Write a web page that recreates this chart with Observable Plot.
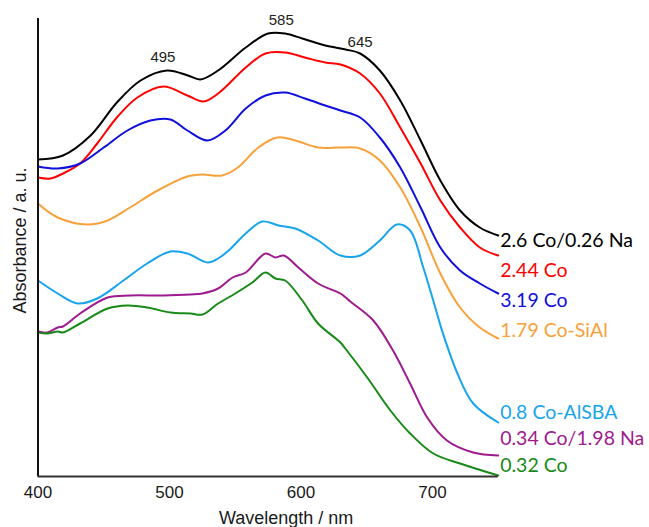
<!DOCTYPE html>
<html><head><meta charset="utf-8">
<script src="https://cdn.jsdelivr.net/npm/d3@7"></script>
<script src="https://cdn.jsdelivr.net/npm/@observablehq/plot@0.6"></script>
<style>body{margin:0;background:#fff}</style>
</head><body><div id="chart"></div>
<script>
// Series names (legend order) and colours
const names = ["2.6 Co/0.26 Na", "2.44 Co", "3.19 Co", "1.79 Co-SiAl", "0.8 Co-AlSBA", "0.34 Co/1.98 Na", "0.32 Co"];
const colors = ["#000000", "#ff0000", "#1010dc", "#f7a13a", "#18a4ec", "#9e1a8e", "#178a17"];

// Absorbance (a.u.) vs wavelength (nm)
const wlBlack  = [400, 419, 440, 460, 478, 498, 514, 523.5, 537, 558, 575, 588, 601, 618.5, 634, 645, 660, 675.5, 691, 706, 721, 736, 750];
const absBlack = [3.17, 3.21, 3.41, 3.74, 3.96, 4.06, 4.01, 3.97, 4.06, 4.29, 4.43, 4.43, 4.38, 4.31, 4.27, 4.23, 4.06, 3.76, 3.36, 2.96, 2.66, 2.49, 2.41];

const wlRed  = [400, 409.5, 419, 432, 445, 460, 475.6, 495.4, 513.6, 525.8, 537, 558, 573, 588, 603, 618.5, 630, 645, 660, 675.5, 691, 706, 721, 736, 750];
const absRed = [2.99, 2.98, 3.03, 3.13, 3.33, 3.59, 3.79, 3.90, 3.81, 3.75, 3.83, 4.09, 4.23, 4.24, 4.19, 4.14, 4.12, 4.03, 3.83, 3.49, 3.13, 2.76, 2.49, 2.29, 2.21];

const wlBlue  = [400, 415, 432, 450, 468, 485.5, 500.7, 513.6, 529, 542.5, 558, 573, 588, 603, 618.5, 630, 645, 660, 675.5, 691, 706, 721, 736, 750];
const absBlue = [3.10, 3.08, 3.13, 3.29, 3.46, 3.56, 3.57, 3.46, 3.36, 3.46, 3.68, 3.81, 3.84, 3.78, 3.71, 3.66, 3.59, 3.39, 3.09, 2.69, 2.29, 2.06, 1.93, 1.83];

const wlOrange  = [400, 415, 437.6, 453, 470, 491, 513.6, 525, 540, 552, 567.6, 582, 595.7, 613, 630, 645, 660, 675.5, 691, 706, 721, 736, 750];
const absOrange = [2.73, 2.59, 2.52, 2.56, 2.69, 2.86, 3.00, 3.02, 3.01, 3.09, 3.29, 3.39, 3.36, 3.29, 3.29, 3.28, 3.16, 2.89, 2.49, 2.03, 1.69, 1.49, 1.38];

const wlLightBlue  = [400, 415, 430, 445, 465, 483, 500.7, 513.6, 529, 537, 545, 558, 570.6, 583, 595.7, 613, 630, 645, 660, 673, 683, 693, 700.6, 708, 719, 731, 750];
const absLightBlue = [1.96, 1.83, 1.73, 1.78, 1.96, 2.13, 2.25, 2.23, 2.14, 2.18, 2.26, 2.43, 2.55, 2.51, 2.48, 2.36, 2.21, 2.21, 2.36, 2.52, 2.46, 2.09, 1.76, 1.43, 1.03, 0.73, 0.54];

const wlPurple  = [400, 407, 415, 419, 432, 453, 470, 495, 516, 525, 537, 548, 558, 573, 580.5, 587, 598, 613, 630, 634, 637.5, 655, 670, 683, 696, 711, 731, 750];
const absPurple = [1.45, 1.44, 1.49, 1.50, 1.63, 1.79, 1.81, 1.81, 1.82, 1.83, 1.88, 1.99, 2.04, 2.23, 2.19, 2.21, 2.09, 1.93, 1.83, 1.79, 1.75, 1.56, 1.26, 0.93, 0.59, 0.36, 0.24, 0.21];

const wlGreen  = [400, 407, 415, 419, 432, 453, 468, 483, 500.7, 516, 525, 537, 550, 563, 573, 580.5, 588, 601, 613, 630, 633.7, 650.4, 668, 683, 700.6, 721, 750];
const absGreen = [1.44, 1.43, 1.45, 1.44, 1.53, 1.68, 1.71, 1.69, 1.64, 1.63, 1.62, 1.73, 1.83, 1.94, 2.04, 1.98, 1.96, 1.76, 1.53, 1.34, 1.28, 0.99, 0.66, 0.43, 0.23, 0.13, 0.01];

// Legend label anchors (a.u. at right edge)
const labelY = [2.36, 2.06, 1.76, 1.46, 0.64, 0.38, 0.11];

// Peak annotations
const peakWl = [495, 585, 645];
const peakY = [4.19, 4.56, 4.34];

const xTicks = [400, 500, 600, 700];

const seriesWl = [wlBlack, wlRed, wlBlue, wlOrange, wlLightBlue, wlPurple, wlGreen];
const seriesAbs = [absBlack, absRed, absBlue, absOrange, absLightBlue, absPurple, absGreen];
const rows = [];
names.forEach((n, i) => seriesWl[i].forEach((w, j) => rows.push({name: n, wl: w, abs: seriesAbs[i][j]})));
const labels = names.map((n, i) => ({name: n, y: labelY[i]}));
const peaks = peakWl.map((w, i) => ({wl: w, y: peakY[i]}));

const chart = Plot.plot({
  width: 649, height: 527,
  marginLeft: 37.5, marginRight: 151.3, marginTop: 18, marginBottom: 51,
  x: {domain: [400, 750]},
  y: {domain: [0, 4.58], axis: null},
  color: {domain: names, range: colors},
  style: {fontFamily: "'Liberation Sans', Arial, sans-serif", fontSize: "17px", color: "#1a1a1a", background: "white"},
  marks: [
    Plot.axisX({ticks: xTicks, tickSize: 0, tickPadding: 9, label: null, fontSize: 17}),
    Plot.text(["Wavelength / nm"], {frameAnchor: "bottom", lineAnchor: "middle", textAnchor: "middle", dx: 18, dy: 42, fontSize: 18, fill: "#1a1a1a"}),
    Plot.text(["Absorbance / a. u."], {frameAnchor: "left", textAnchor: "middle", lineAnchor: "middle", rotate: -90, dx: -18, dy: -7, fontSize: 18, fill: "#1a1a1a"}),
    Plot.line(rows, {x: "wl", y: "abs", z: "name", stroke: "name", strokeWidth: 2, curve: "catmull-rom"}),
    Plot.ruleY([0], {stroke: "#333", strokeWidth: 2}),
    Plot.ruleX([400], {stroke: "#111", strokeWidth: 2}),
    Plot.text(labels, {x: 750, y: "y", text: "name", fill: "name", textAnchor: "start", dx: 2, fontSize: 19.5, fontFamily: "Lato, 'Open Sans', sans-serif"}),
    Plot.text(peaks, {x: "wl", y: "y", text: d => String(d.wl), fontSize: 15, fill: "#222"})
  ]
});
document.getElementById("chart").append(chart);
</script>
</body></html>
